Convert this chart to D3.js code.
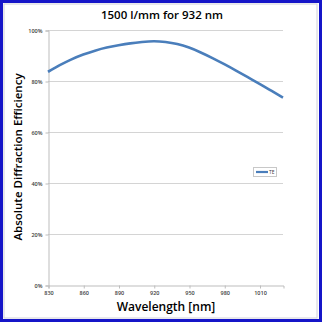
<!DOCTYPE html>
<html>
<head>
<meta charset="utf-8">
<script src="https://cdn.jsdelivr.net/npm/d3@7"></script>
<style>
  html, body { margin: 0; padding: 0; background: #fff; }
  svg { display: block; }
</style>
</head>
<body>
<svg id="chart" width="324" height="324"></svg>
<script>
// Grating efficiency curve, TE polarisation
const wavelengths = [830, 840, 850, 860, 870, 880, 890, 900, 910, 920, 930,
                     940, 950, 960, 970, 980, 990, 1000, 1010, 1020, 1030];
const teEfficiency = [83.6, 86.2, 88.5, 90.4, 91.9, 93.1, 94.0, 94.75, 95.3, 95.6, 95.3,
                      94.5, 93.1, 91.2, 89.0, 86.6, 84.1, 81.5, 78.9, 76.2, 73.5];
const xTicks = [830, 860, 890, 920, 950, 980, 1010];
const yTicks = [0, 20, 40, 60, 80, 100];
const seriesName = "TE";

const svg = d3.select("#chart");
const W = 324, H = 324;
const plot = { left: 48, right: 283, top: 30, bottom: 285 };

// frame
svg.append("rect").attr("x", 0).attr("y", 0).attr("width", W).attr("height", H).attr("fill", "#fff");
svg.append("rect").attr("x", 4).attr("y", 4).attr("width", 313).attr("height", 314)
  .attr("fill", "none").attr("stroke", "#d0d0d8").attr("stroke-width", 1);
svg.append("rect").attr("x", 1.5).attr("y", 1.5).attr("width", 319).attr("height", 319)
  .attr("fill", "none").attr("stroke", "#1515c8").attr("stroke-width", 3);

const x = d3.scaleLinear().domain([830, 1030]).range([plot.left, plot.right]);
const y = d3.scaleLinear().domain([0, 100]).range([plot.bottom, plot.top]);

// gridlines
svg.append("g").selectAll("line").data(yTicks.filter(d => d > 0)).join("line")
  .attr("x1", plot.left).attr("x2", plot.right)
  .attr("y1", d => y(d) + 0.5).attr("y2", d => y(d) + 0.5)
  .attr("stroke", "#d4d4d4").attr("stroke-width", 1);

// y axis
const yAxis = d3.axisLeft(y).tickValues(yTicks).tickFormat(d => d + "%").tickSize(3).tickPadding(3);
const gy = svg.append("g").attr("transform", `translate(${plot.left + 0.5},0.5)`).call(yAxis);
gy.select(".domain").attr("stroke", "#bdbdbd");
gy.selectAll(".tick line").attr("stroke", "#bdbdbd");
gy.selectAll(".tick text").attr("font-family", "'Open Sans', sans-serif")
  .attr("font-size", 5.5).attr("fill", "#404040").attr("font-weight", 600);

// x axis
const xAxis = d3.axisBottom(x).tickValues(xTicks).tickFormat(d3.format("d")).tickSize(3).tickPadding(3);
const gx = svg.append("g").attr("transform", `translate(0.5,${plot.bottom + 0.5})`).call(xAxis);
gx.select(".domain").attr("stroke", "#bdbdbd");
gx.selectAll(".tick line").attr("stroke", "#bdbdbd");
gx.selectAll(".tick text").attr("font-family", "'Open Sans', sans-serif")
  .attr("font-size", 5.5).attr("fill", "#404040").attr("font-weight", 600);

// curve
const line = d3.line()
  .x((d, i) => x(wavelengths[i]))
  .y(d => y(d))
  .curve(d3.curveNatural);
svg.append("path").datum(teEfficiency)
  .attr("d", line)
  .attr("fill", "none")
  .attr("stroke", "#4a7ebb")
  .attr("stroke-width", 2.6)
  .attr("stroke-linejoin", "round");

// legend
const lg = svg.append("g").attr("transform", "translate(253,167)");
lg.append("rect").attr("x", 0.5).attr("y", 0.5).attr("width", 23).attr("height", 9)
  .attr("fill", "#fff").attr("stroke", "#c8c8c8").attr("stroke-width", 1);
lg.append("line").attr("x1", 3).attr("x2", 15).attr("y1", 5).attr("y2", 5)
  .attr("stroke", "#4a7ebb").attr("stroke-width", 2.2);
lg.append("text").attr("x", 16).attr("y", 7).text(seriesName)
  .attr("font-family", "'Open Sans', sans-serif").attr("font-size", 5).attr("fill", "#404040");

// titles
svg.append("text").attr("x", 162).attr("y", 18.5).attr("text-anchor", "middle")
  .attr("font-family", "'Open Sans', sans-serif").attr("font-weight", 600)
  .attr("font-size", 11.5).attr("fill", "#000").text("1500 l/mm for 932 nm");

svg.append("text").attr("x", 166).attr("y", 311).attr("text-anchor", "middle")
  .attr("font-family", "'Open Sans', sans-serif").attr("font-weight", 600)
  .attr("font-size", 12).attr("fill", "#000").text("Wavelength [nm]");

svg.append("text").attr("transform", "translate(21.5,157) rotate(-90)").attr("text-anchor", "middle")
  .attr("font-family", "'Open Sans', sans-serif").attr("font-weight", 600)
  .attr("font-size", 11.5).attr("fill", "#000").text("Absolute Diffraction Efficiency");
</script>
</body>
</html>
